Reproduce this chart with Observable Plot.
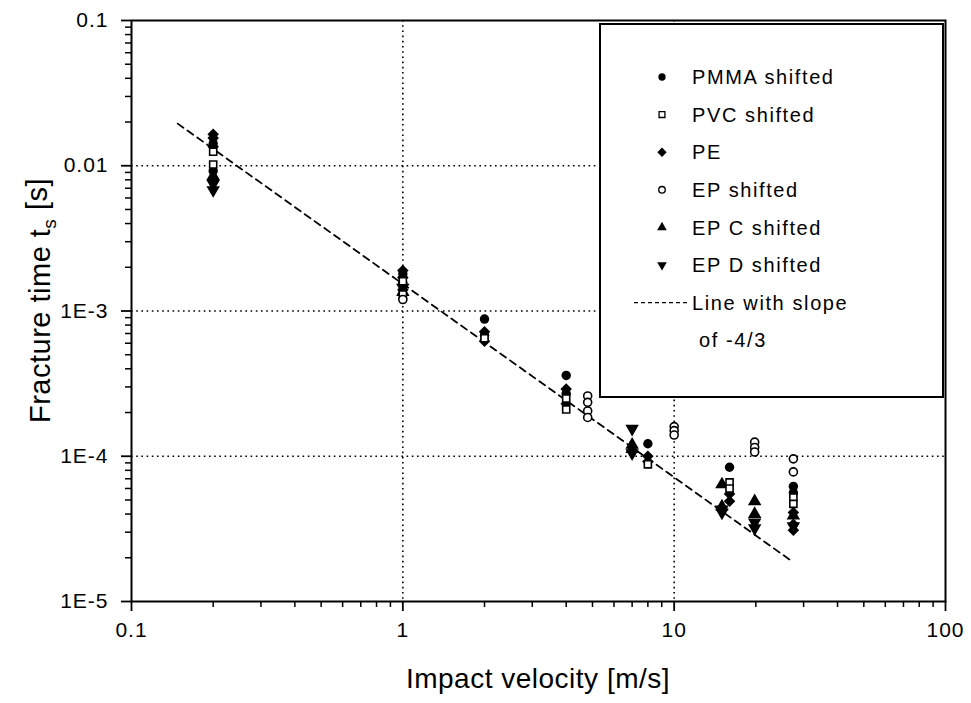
<!DOCTYPE html>
<html><head><meta charset="utf-8">
<script src="https://cdn.jsdelivr.net/npm/d3@7"></script>
<script src="https://cdn.jsdelivr.net/npm/@observablehq/plot@0.6"></script>
<style>
body{margin:0;background:#fff;}
#wrap{position:relative;width:971px;height:703px;font-family:"Liberation Sans",Arial,sans-serif;}
</style></head><body><div id="wrap"></div>
<script>
// ---- data ----
const seriesNames = ["PMMA shifted","PVC shifted","PE","EP shifted","EP C shifted","EP D shifted"];

const pmmaV = [0.2, 0.2, 1, 1, 2, 2, 4, 4, 8, 16, 27.5, 27.5];
const pmmaT = [0.0142, 0.0092, 0.0018, 0.00155, 0.00088, 0.00068, 0.00036, 0.00027, 0.000122, 0.000084, 0.000062, 0.000056];

const pvcV = [0.2, 0.2, 1, 1, 2, 4, 4, 8, 16, 16, 27.5, 27.5];
const pvcT = [0.0125, 0.0102, 0.0016, 0.0013, 0.00065, 0.00025, 0.00021, 0.000088, 0.000066, 0.00006, 0.000052, 0.000047];

const peV = [0.2, 0.2, 0.2, 1, 1, 1, 2, 2, 4, 4, 8, 8, 16, 16, 27.5, 27.5, 27.5];
const peT = [0.0165, 0.0155, 0.0135, 0.0019, 0.0017, 0.0014, 0.00072, 0.00062, 0.00029, 0.00023, 0.0001, 0.000092, 0.000055, 0.000049, 0.000041, 0.000034, 0.000031];

const epV = [1, 4.8, 4.8, 4.8, 4.8, 10, 10, 10, 19.8, 19.8, 19.8, 27.5, 27.5];
const epT = [0.0012, 0.00026, 0.000235, 0.000205, 0.000185, 0.00016, 0.00015, 0.00014, 0.000125, 0.000115, 0.000107, 0.000096, 0.000078];

const epcV = [0.2, 1, 7, 7, 15, 15, 19.8, 19.8, 27.5];
const epcT = [0.0085, 0.00135, 0.00012, 0.000112, 0.000064, 0.000045, 0.000049, 0.00004, 0.000039];

const epdV = [0.2, 0.2, 1, 7, 7, 15, 15, 19.8, 19.8, 27.5];
const epdT = [0.0075, 0.0068, 0.00145, 0.000155, 0.000105, 0.000043, 0.000041, 0.000035, 0.000032, 0.000033];

const slopeV = [0.148, 27.3];
const slopeT = [0.0195, 0.0000188];

const xTicks = [0.1, 1, 10, 100];
const xTickLabels = ["0.1", "1", "10", "100"];
const yTicks = [0.1, 0.01, 0.001, 0.0001, 0.00001];
const yTickLabels = ["0.1", "0.01", "1E-3", "1E-4", "1E-5"];
const xGrid = [1, 10];
const yGrid = [0.01, 0.001, 0.0001];
const minorMult = [2, 3, 4, 5, 6, 7, 8, 9];

const xTitle = "Impact velocity [m/s]";
const yTitleMain = "Fracture time t";
const yTitleSub = "s";
const yTitleEnd = " [s]";
const legendLine1 = "Line with slope";
const legendLine2 = "of -4/3";

// ---- build ----
const zip = (v, t) => v.map((d, i) => ({v: d, t: t[i]}));
const xMinor = [0.1, 1, 10].flatMap(d => minorMult.map(m => +(d * m).toPrecision(3)));
const yMinor = [0.00001, 0.0001, 0.001, 0.01].flatMap(d => minorMult.map(m => +(d * m).toPrecision(3)));
const xLab = new Map(xTicks.map((d, i) => [d, xTickLabels[i]]));
const yLab = new Map(yTicks.map((d, i) => [d, yTickLabels[i]]));

const W = 971, H = 703;
const mL = 131, mR = 26, mT = 20, mB = 102;

const grid = {stroke: "#000", strokeOpacity: 1, strokeWidth: 1.6, strokeDasharray: "1.6,3.6"};
const dotBase = {x: "v", y: "t", r: 4.7};

const chart = Plot.plot({
  width: W, height: H,
  marginLeft: mL, marginRight: mR, marginTop: mT, marginBottom: mB,
  x: {type: "log", domain: [0.1, 100]},
  y: {type: "log", domain: [0.00001, 0.1]},
  style: {fontFamily: "'Liberation Sans', Arial, sans-serif", fontSize: "21px", color: "#000", background: "#fff", letterSpacing: "1px"},
  marks: [
    Plot.gridX(xGrid, grid),
    Plot.gridY(yGrid, grid),
    Plot.axisX({ticks: xMinor, tickSize: 6, tickFormat: () => "", label: null, strokeWidth: 1.5}),
    Plot.axisY({ticks: yMinor, tickSize: 6, tickFormat: () => "", label: null, strokeWidth: 1.5}),
    Plot.axisX({ticks: xTicks, tickSize: 10, tickPadding: 11, tickFormat: d => xLab.get(d), label: null, strokeWidth: 1.8}),
    Plot.axisY({ticks: yTicks, tickSize: 10, tickPadding: 13, tickFormat: d => yLab.get(d), label: null, strokeWidth: 1.8}),
    Plot.line(zip(slopeV, slopeT), {x: "v", y: "t", stroke: "#000", strokeWidth: 1.8, strokeDasharray: "7,5"}),
    Plot.dot(zip(peV, peT), {...dotBase, symbol: "diamond2", fill: "#000", r: 5.2}),
    Plot.dot(zip(pmmaV, pmmaT), {...dotBase, symbol: "circle", fill: "#000"}),
    Plot.dot(zip(epcV, epcT), {...dotBase, symbol: "triangle", fill: "#000", r: 5}),
    Plot.dot(zip(epdV, epdT), {...dotBase, symbol: "triangle", fill: "#000", r: 5, rotate: 180}),
    Plot.dot(zip(pvcV, pvcT), {...dotBase, symbol: "square", fill: "#fff", stroke: "#000", strokeWidth: 1.6, r: 4}),
    Plot.dot(zip(epV, epT), {...dotBase, symbol: "circle", fill: "#fff", stroke: "#000", strokeWidth: 1.6, r: 4}),
    Plot.frame({stroke: "#000", strokeWidth: 2})
  ]
});

const wrap = document.getElementById("wrap");
wrap.appendChild(chart);

// titles
const svg = d3.select(chart);
svg.append("text")
  .attr("x", (mL + W - mR) / 2).attr("y", 688)
  .attr("text-anchor", "middle")
  .attr("font-size", 28).attr("letter-spacing", "0.5px")
  .text(xTitle);
const yt = svg.append("text")
  .attr("transform", `translate(50,${(mT + H - mB) / 2 - 10}) rotate(-90)`)
  .attr("text-anchor", "middle")
  .attr("font-size", 29).attr("letter-spacing", "0.5px");
yt.append("tspan").text(yTitleMain);
yt.append("tspan").attr("font-size", 19).attr("dy", "0.3em").text(yTitleSub);
yt.append("tspan").attr("dy", "-0.3em").text(yTitleEnd);

// legend box (inside plot, top-right)
const lg = svg.append("g").attr("font-size", 20).attr("letter-spacing", "1.6px").attr("text-anchor", "start");
lg.append("rect").attr("x", 600).attr("y", 24).attr("width", 343).attr("height", 373)
  .attr("fill", "#fff").attr("stroke", "#000").attr("stroke-width", 2);
const legSyms = [
  {t: d3.symbolCircle, fill: "#000", stroke: "none", rot: 0, s: 42},
  {t: d3.symbolSquare, fill: "#fff", stroke: "#000", rot: 0, s: 34},
  {t: d3.symbolDiamond2, fill: "#000", stroke: "none", rot: 0, s: 56},
  {t: d3.symbolCircle, fill: "#fff", stroke: "#000", rot: 0, s: 34},
  {t: d3.symbolTriangle, fill: "#000", stroke: "none", rot: 0, s: 40},
  {t: d3.symbolTriangle, fill: "#000", stroke: "none", rot: 180, s: 40}
];
seriesNames.forEach((name, i) => {
  const y = 77 + i * 37.6;
  const s = legSyms[i];
  lg.append("path").attr("d", d3.symbol(s.t, s.s)())
    .attr("transform", `translate(662,${y}) rotate(${s.rot})`)
    .attr("fill", s.fill).attr("stroke", s.stroke).attr("stroke-width", 1.3);
  lg.append("text").attr("x", 692).attr("y", y).attr("dy", "0.36em").attr("text-anchor", "start").text(name);
});
const ly = 77 + 6 * 37.6;
lg.append("line").attr("x1", 634).attr("x2", 690).attr("y1", ly).attr("y2", ly)
  .attr("stroke", "#000").attr("stroke-width", 1.4).attr("stroke-dasharray", "4,3");
lg.append("text").attr("x", 692).attr("y", ly).attr("dy", "0.36em").attr("text-anchor", "start").text(legendLine1);
lg.append("text").attr("x", 699).attr("y", ly + 37).attr("dy", "0.36em").attr("text-anchor", "start").text(legendLine2);
</script>
</body></html>
